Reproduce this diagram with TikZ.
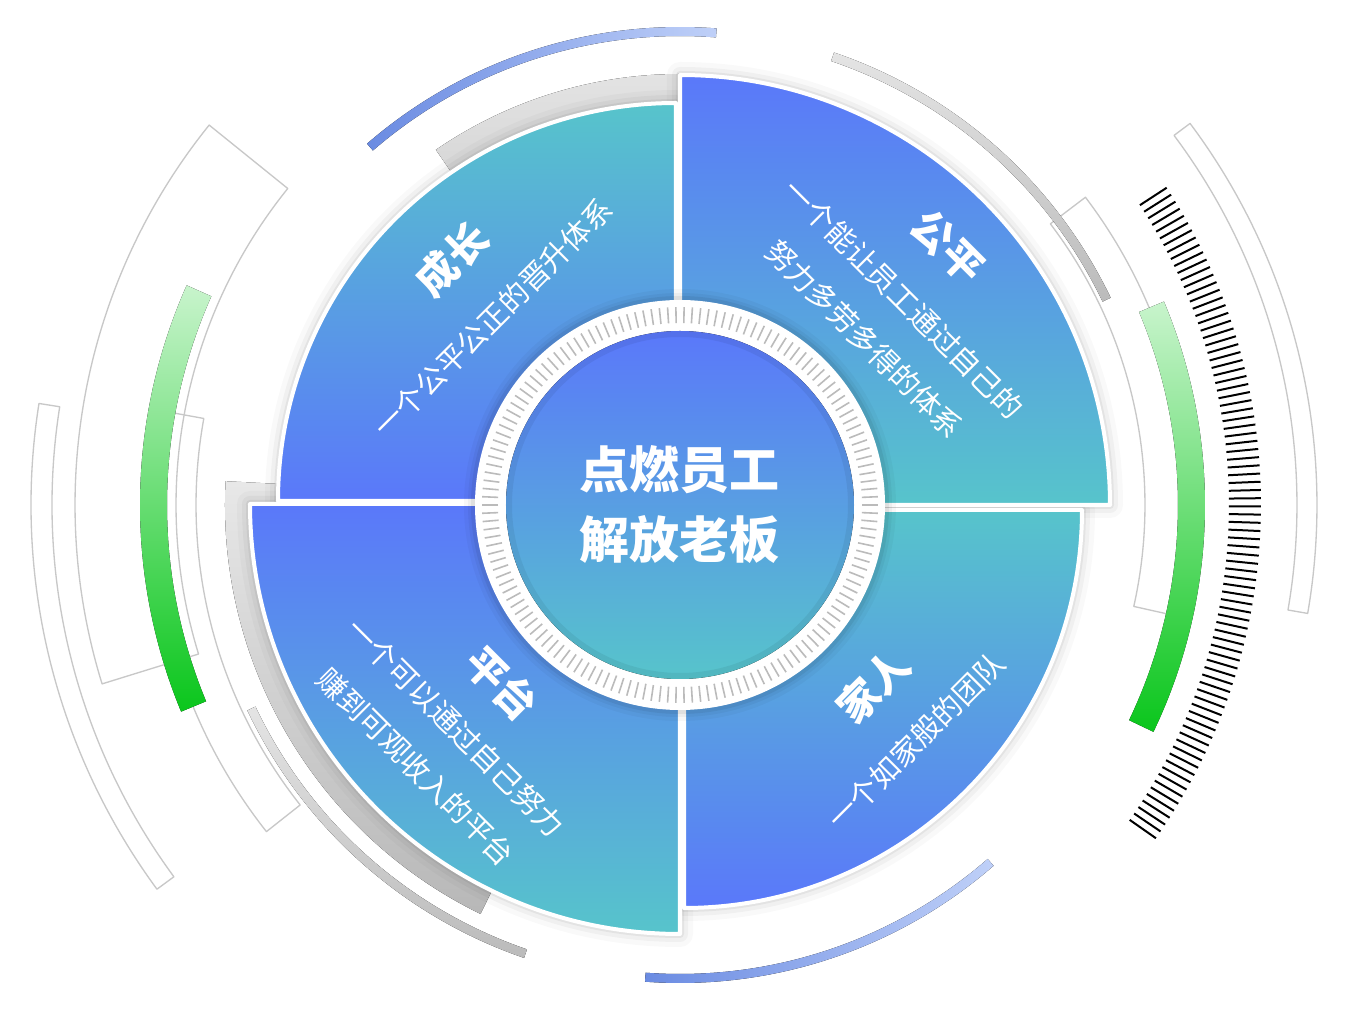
\documentclass[tikz,border=0pt]{standalone}
\usepackage{fontspec}
\newfontfamily\cjk{Noto Sans CJK SC}
\usepackage{tikz}
\usetikzlibrary{calc}
\definecolor{cblue}{HTML}{5A78FA}
\definecolor{cteal}{HTML}{57C4CB}
\definecolor{cgreenl}{HTML}{C8F4CC}
\definecolor{cgreend}{HTML}{0AC61C}
\definecolor{carcl}{HTML}{BFD0F8}
\definecolor{carcd}{HTML}{6A8BE2}
\definecolor{cgreyl}{HTML}{E4E4E4}
\definecolor{cgreyd}{HTML}{BBBBBB}
\definecolor{cline}{HTML}{C8C8C8}
\newcommand{\band}[4]{(#1:#3) arc[start angle=#1, end angle=#2, radius=#3] -- (#2:#4) arc[start angle=#2, end angle=#1, radius=#4] -- cycle}

\begin{document}
\begin{tikzpicture}[x=0.75pt, y=0.75pt,
      outline/.style={draw=cline, line width=1pt, line join=round},
      tickb/.style={draw=black, line width=1.5pt},
      tickg/.style={draw=cgreyd, line width=1.2pt},
      ttl/.style={text=white, inner sep=0pt, font={\cjk\bfseries\fontsize{31}{31}\selectfont}},
      sub/.style={text=white, inner sep=0pt, align=center, font={\cjk\fontsize{22}{42}\selectfont}},
      ctr/.style={text=white, inner sep=0pt, align=center, font={\cjk\bfseries\fontsize{37.5}{52.5}\selectfont}}]
      \fill[white] (-680,-507) rectangle (680,505);
      \useasboundingbox (-680,-507) rectangle (680,505);
      % outer outlines
      \draw[outline] \band{171}{216.3}{649}{628};
      \draw[outline] \band{141.1}{197.2}{605}{504};
      \draw[outline] \band{169.7}{218.3}{527}{484};
      \draw[outline] \band{-9.8}{36.8}{637}{617};
      \draw[outline] \band{-12.6}{37.2}{509}{465};
      % thin arcs
      \fill[left color=carcd, right color=carcl] \band{85.6}{130.9}{478}{469};
      \fill[left color=carcd, right color=carcl] \band{265.8}{311}{478}{469};
      \fill[top color=cgreyl, bottom color=cgreyd] \band{25.7}{71.2}{478}{469};
      \fill[top color=cgreyl, bottom color=cgreyd] \band{205.4}{251}{479}{470};
      % green bars
      \fill[top color=cgreenl, bottom color=cgreend] \band{156}{202.5}{540}{513};
      \fill[top color=cgreenl, bottom color=cgreend] \band{-25.6}{22.8}{525}{498};
      \foreach \i in {0,...,84}
        \draw[tickb] ({-35+\i*68.1/84}:549) -- ({-35+\i*68.1/84}:581);
      % grey bands behind the sectors
      \fill[top color=black!11, bottom color=black!16] \band{90}{124.5}{431}{398};
      \fill[top color=black!9, bottom color=black!28] \band{177}{244}{455}{400};
      \foreach \cx/\cy/\a/\r in {-4/4/90/398, 0/0/0/430, 4/-5/270/398, 0/1/180/430}
        \foreach \w/\o in {26/0.025, 16/0.035, 8/0.05}
          \draw[line width=\w*0.75pt, black, opacity=\o, line join=round]
            (\cx,\cy) -- ++(\a:\r) arc[start angle=\a, delta angle=90, radius=\r] -- cycle;
      \foreach \cx/\cy/\a/\r/\ct/\cb in {-4/4/90/398/cteal/cblue, 0/0/0/430/cblue/cteal,
          4/-5/270/398/cteal/cblue, 0/1/180/430/cblue/cteal}
        \draw[white, line width=3pt, line join=round, top color=\ct, bottom color=\cb]
          (\cx,\cy) -- ++(\a:\r) arc[start angle=\a, delta angle=90, radius=\r] -- cycle;
      % centre ring
      \foreach \w/\o in {22/0.03, 14/0.04, 8/0.06}
        \draw[line width=\w*0.75pt, black, opacity=\o] (0,0) circle[radius=205];
      \fill[white] (0,0) circle[radius=205];
      \foreach \a in {0,2.4,...,357.6}
        \draw[tickg] (\a:182) -- (\a:198);
      \fill[top color=cblue, bottom color=cteal] (0,0) circle[radius=174];
      \draw[black, opacity=0.06, line width=4.5pt] (0,0) circle[radius=171];
      % texts
      \node[ttl, rotate=45] (t1) at (-228,246) {成长};
      \node[sub, rotate=45] (s1) at (-187,187) {一个公平公正的晋升体系};
      \node[ttl, rotate=-45] (t2) at (268,258) {公平};
      \node[sub, rotate=-45] (s2) at (204,186) {一个能让员工通过自己的\\努力多劳多得的体系};
      \node[ttl, rotate=45] (t3) at (193,-181) {家人};
      \node[sub, rotate=45] (s3) at (236,-236) {一个如家般的团队};
      \node[ttl, rotate=-45] (t4) at (-178,-178) {平台};
      \node[sub, rotate=-45] (s4) at (-244,-242) {一个可以通过自己努力\\赚到可观收入的平台};
      \node[ctr] (c0) at (0,0) {点燃员工\\解放老板};
    \end{tikzpicture}
\end{document}
